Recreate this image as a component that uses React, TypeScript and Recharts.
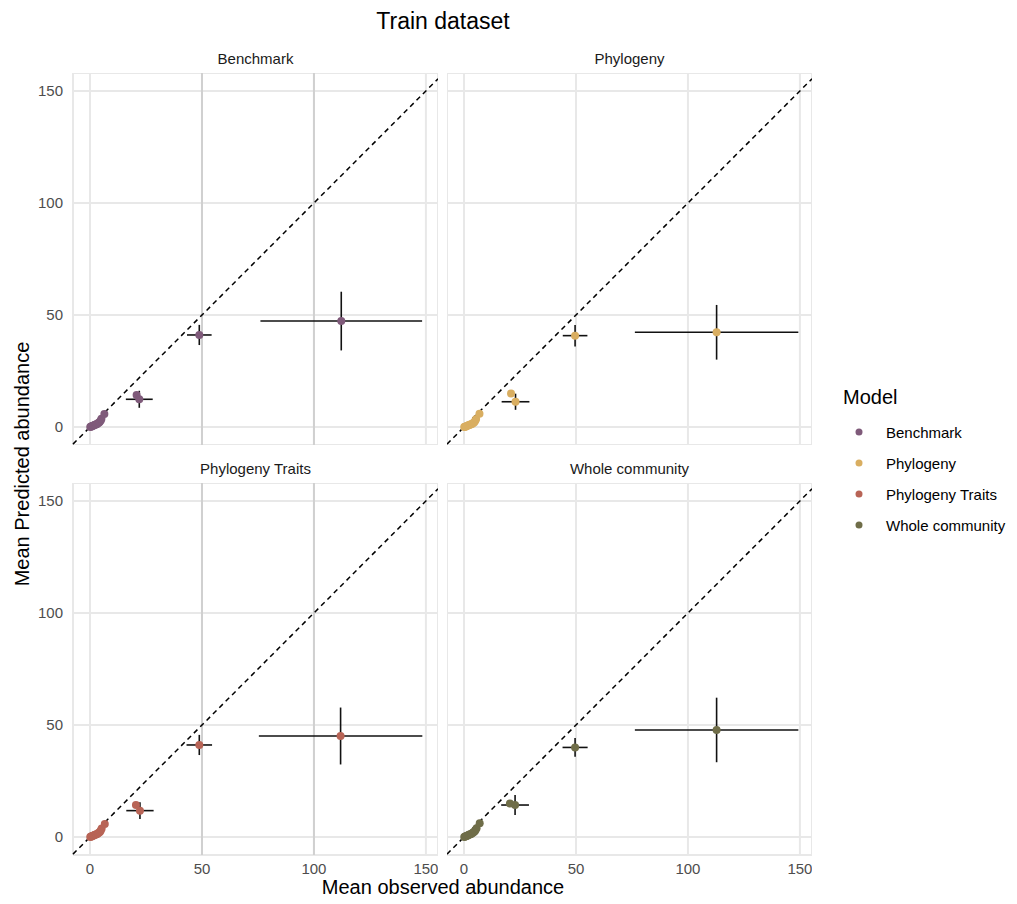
import React from 'react';
import { ScatterChart, Scatter, XAxis, YAxis, CartesianGrid, ErrorBar, ReferenceLine } from 'recharts';

const models = ['Benchmark', 'Phylogeny', 'Phylogeny Traits', 'Whole community'];
const modelColors = ['#7f5a7a', '#d9ae61', '#b86456', '#6f6d48'];
const axisTicks = [0, 50, 100, 150];
const darkGridX = [50, 100];
const X_DOMAIN: [number, number] = [-7.6, 155.4];
const Y_DOMAIN: [number, number] = [-8, 158];

// Benchmark
const benchmarkX = [0.1, 0.4, 0.7, 1.0, 1.4, 1.8, 2.2, 2.6, 3.0, 3.4, 3.9, 4.3, 4.8, 5.1, 6.4, 20.8, 22.0, 48.8, 112.2];
const benchmarkY = [0.0, 0.2, 0.3, 0.5, 0.6, 0.8, 1.0, 1.2, 1.3, 1.6, 1.9, 2.3, 2.9, 3.7, 5.8, 14.3, 12.4, 41.1, 47.3];
const benchmarkXErr = [0.1, 0.2, 0.3, 0.4, 0.4, 0.5, 0.6, 0.6, 0.7, 0.7, 0.8, 0.8, 0.9, 1.0, 1.0, 1.0, 6.0, 5.5, 36.1];
const benchmarkYErr = [0.1, 0.2, 0.2, 0.3, 0.3, 0.4, 0.4, 0.5, 0.5, 0.6, 0.6, 0.7, 0.8, 0.9, 1.0, 1.0, 3.8, 4.5, 13.1];

// Phylogeny
const phylogenyX = [0.1, 0.4, 0.8, 1.1, 1.5, 1.9, 2.4, 2.8, 3.2, 3.7, 4.1, 4.6, 5.0, 5.4, 6.9, 21.0, 23.0, 49.6, 112.8];
const phylogenyY = [0.0, 0.1, 0.3, 0.4, 0.6, 0.8, 0.9, 1.1, 1.3, 1.5, 1.8, 2.2, 2.8, 3.6, 5.9, 15.0, 11.3, 40.8, 42.3];
const phylogenyXErr = [0.1, 0.2, 0.3, 0.4, 0.4, 0.5, 0.6, 0.6, 0.7, 0.7, 0.8, 0.8, 0.9, 1.0, 1.0, 1.0, 6.2, 5.5, 36.5];
const phylogenyYErr = [0.1, 0.2, 0.2, 0.3, 0.3, 0.4, 0.4, 0.5, 0.5, 0.6, 0.6, 0.7, 0.8, 0.9, 1.0, 1.0, 3.6, 4.8, 12.2];

// Phylogeny Traits
const traitsX = [0.1, 0.4, 0.7, 1.0, 1.4, 1.8, 2.2, 2.6, 3.0, 3.5, 3.9, 4.4, 4.8, 5.2, 6.6, 20.5, 22.3, 48.8, 111.9];
const traitsY = [0.0, 0.2, 0.3, 0.5, 0.6, 0.8, 1.0, 1.1, 1.3, 1.6, 1.9, 2.3, 2.9, 3.8, 5.8, 14.3, 11.8, 41.1, 45.1];
const traitsXErr = [0.1, 0.2, 0.3, 0.4, 0.4, 0.5, 0.6, 0.6, 0.7, 0.7, 0.8, 0.8, 0.9, 1.0, 1.0, 1.0, 6.1, 5.7, 36.5];
const traitsYErr = [0.1, 0.2, 0.2, 0.3, 0.3, 0.4, 0.4, 0.5, 0.5, 0.6, 0.6, 0.7, 0.8, 0.9, 1.0, 1.0, 3.7, 4.5, 12.7];

// Whole community
const wholeX = [0.1, 0.5, 0.8, 1.2, 1.6, 2.0, 2.4, 2.9, 3.3, 3.8, 4.2, 4.7, 5.1, 5.6, 7.0, 20.5, 22.8, 49.6, 112.8];
const wholeY = [0.0, 0.2, 0.4, 0.5, 0.7, 0.9, 1.1, 1.3, 1.5, 1.8, 2.1, 2.5, 3.1, 3.9, 6.2, 15.0, 14.3, 40.0, 47.8];
const wholeXErr = [0.1, 0.2, 0.3, 0.4, 0.4, 0.5, 0.6, 0.6, 0.7, 0.7, 0.8, 0.8, 0.9, 1.0, 1.0, 1.0, 6.2, 5.6, 36.5];
const wholeYErr = [0.1, 0.2, 0.2, 0.3, 0.3, 0.4, 0.4, 0.5, 0.5, 0.6, 0.6, 0.7, 0.8, 0.9, 1.0, 1.0, 4.5, 4.2, 14.4];

const seriesX = [benchmarkX, phylogenyX, traitsX, wholeX];
const seriesY = [benchmarkY, phylogenyY, traitsY, wholeY];
const seriesXErr = [benchmarkXErr, phylogenyXErr, traitsXErr, wholeXErr];
const seriesYErr = [benchmarkYErr, phylogenyYErr, traitsYErr, wholeYErr];

const FONT = '"Liberation Sans", Arial, Helvetica, sans-serif';
const PW = 365;
const PH = 372;
const YW = 60;
const XH = 30;

function buildData(i: number) {
  return seriesX[i].map((x, k) => ({ x, y: seriesY[i][k], ex: seriesXErr[i][k], ey: seriesYErr[i][k] }));
}

function Dot(color: string) {
  return (props: any) => <circle cx={props.cx} cy={props.cy} r={4} fill={color} />;
}

function Panel({ idx, left, top, showX, showY }: { idx: number; left: number; top: number; showX: boolean; showY: boolean }) {
  const w = PW + (showY ? YW : 0);
  const h = PH + (showX ? XH : 0);
  const data = buildData(idx);
  const color = modelColors[idx];
  return (
    <div style={{ position: 'absolute', left: left - (showY ? YW : 0), top, width: w, height: h }}>
      <ScatterChart width={w} height={h} margin={{ top: 0, right: 0, bottom: 0, left: 0 }}>
        <CartesianGrid stroke="#e8e8e8" strokeWidth={2} />
        <XAxis
          type="number"
          dataKey="x"
          domain={X_DOMAIN}
          ticks={axisTicks}
          allowDataOverflow
          hide={!showX}
          height={XH}
          tickLine={false}
          axisLine={false}
          tickSize={0}
          tickMargin={8}
          interval={0}
          tick={{ fill: '#4d4d4d', fontSize: 15 }}
        />
        <YAxis
          type="number"
          dataKey="y"
          domain={Y_DOMAIN}
          ticks={axisTicks}
          allowDataOverflow
          hide={!showY}
          width={YW}
          tickLine={false}
          axisLine={false}
          tickSize={0}
          tickMargin={10}
          interval={0}
          tick={{ fill: '#4d4d4d', fontSize: 15 }}
        />
        {showY &&
          darkGridX.map((v) => <ReferenceLine key={'g' + v} x={v} stroke="#d0d0d0" strokeWidth={2} ifOverflow="visible" />)}
        <ReferenceLine
          segment={[{ x: X_DOMAIN[0], y: X_DOMAIN[0] }, { x: X_DOMAIN[1], y: X_DOMAIN[1] }]}
          stroke="#000"
          strokeWidth={1.5}
          strokeDasharray="5 4"
          ifOverflow="visible"
        />
        <Scatter data={data} fill={color} isAnimationActive={false} shape={Dot(color)}>
          <ErrorBar dataKey="ex" direction="x" width={0} stroke="#111" strokeWidth={1.6} />
          <ErrorBar dataKey="ey" direction="y" width={0} stroke="#111" strokeWidth={1.6} />
        </Scatter>
      </ScatterChart>
    </div>
  );
}

const panelLefts = [73, 447, 73, 447];
const panelTops = [73, 73, 483, 483];

export default function App() {
  return (
    <div style={{ position: 'absolute', left: 0, top: 0, width: 1017, height: 904, background: '#fff', fontFamily: FONT, overflow: 'hidden' }}>
      <div style={{ position: 'absolute', left: 243, width: 400, top: 9, fontSize: 23, lineHeight: '24px', textAlign: 'center', color: '#000' }}>
        Train dataset
      </div>
      {models.map((m, i) => (
        <div
          key={'strip' + i}
          style={{ position: 'absolute', left: panelLefts[i], width: PW, top: panelTops[i] - 22, fontSize: 15, lineHeight: '16px', textAlign: 'center', color: '#1a1a1a' }}
        >
          {m}
        </div>
      ))}
      {models.map((m, i) => (
        <Panel key={m} idx={i} left={panelLefts[i]} top={panelTops[i]} showX={i >= 2} showY={i % 2 === 0} />
      ))}
      <div style={{ position: 'absolute', left: 243, width: 400, top: 876, fontSize: 20, lineHeight: '22px', textAlign: 'center', color: '#000' }}>
        Mean observed abundance
      </div>
      <div
        style={{
          position: 'absolute',
          left: 22 - 200,
          top: 464 - 11,
          width: 400,
          fontSize: 20,
          lineHeight: '22px',
          textAlign: 'center',
          color: '#000',
          transform: 'rotate(-90deg)',
        }}
      >
        Mean Predicted abundance
      </div>
      <div style={{ position: 'absolute', left: 843, top: 386, fontSize: 20, lineHeight: '22px', color: '#000' }}>Model</div>
      {models.map((m, i) => (
        <div key={'lg' + i} style={{ position: 'absolute', left: 855, top: 423 + i * 31, height: 18, display: 'flex', alignItems: 'center' }}>
          <svg width={8} height={8} style={{ display: 'block' }}>
            <circle cx={4} cy={4} r={3.5} fill={modelColors[i]} />
          </svg>
          <span style={{ marginLeft: 23, fontSize: 15, color: '#000' }}>{m}</span>
        </div>
      ))}
    </div>
  );
}
